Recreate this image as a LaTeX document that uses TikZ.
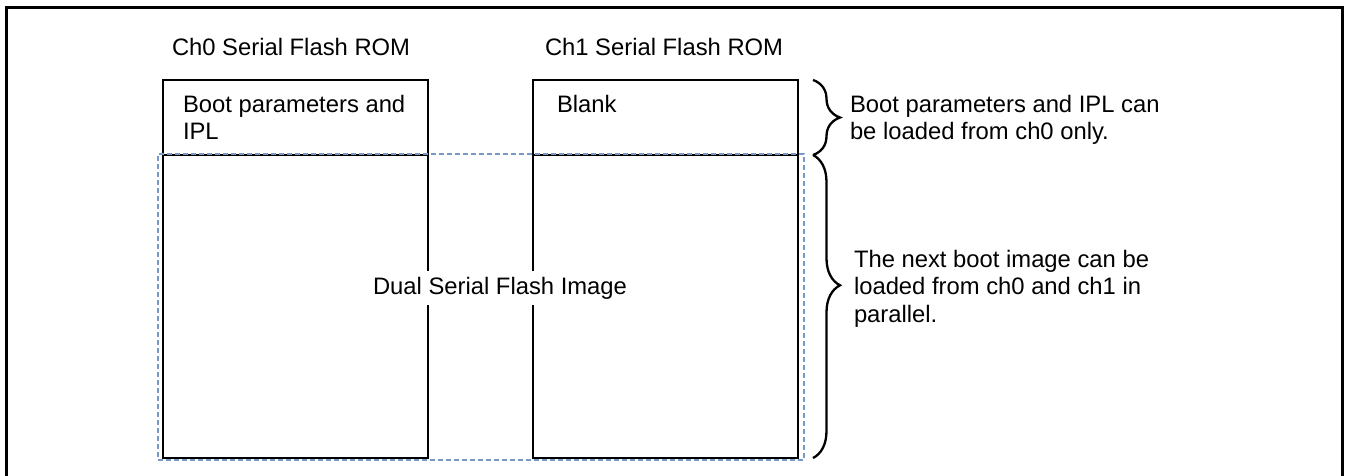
\documentclass[tikz,border=0pt]{standalone}
\usepackage{fontspec}
\setmainfont{Liberation Sans}
\usetikzlibrary{decorations.pathreplacing}
\definecolor{dashblue}{RGB}{120,152,204}
\begin{document}
\begin{tikzpicture}[x=1pt,y=-1pt,
  box/.style={draw, line width=2.8pt, minimum width=265pt, anchor=north west, inner sep=0pt, outer sep=0pt},
  txt/.style={font=\fontsize{23.8}{27.5}\selectfont, inner sep=0pt, outer sep=0pt},
  lbl/.style={txt, anchor=base west},
  para/.style={txt, anchor=north west, align=left},
  brc/.style={decorate, decoration={brace, amplitude=27pt}, line width=2.3pt},
  dashbox/.style={draw=dashblue, dashed, dash pattern=on 5pt off 3pt, line width=1.6pt, anchor=north west, inner sep=0pt, minimum width=646pt, minimum height=306pt}]
\useasboundingbox (0,0) rectangle (1346,475);
\fill[white] (0,0) rectangle (1346,475);
% outer frame
\draw[line width=3pt] (6,480) -- (6,7) -- (1342,7) -- (1342,480);
% titles
\node[lbl] (t0) at (172,55.5) {Ch0 Serial Flash ROM};
\node[lbl] (t1) at (545,55.5) {Ch1 Serial Flash ROM};
% boxes
\node[box, minimum height=75pt] (c0t) at (163,80) {};
\node[box, minimum height=303pt] (c0b) at (163,155) {};
\node[box, minimum height=75pt] (c1t) at (533,80) {};
\node[box, minimum height=303pt] (c1b) at (533,155) {};
% dashed region
\node[dashbox] (dual) at (157,153) {};
% box texts
\node[para] (boot) at (183,95.1) {Boot parameters and\\IPL};
\node[lbl] (blank) at (557,112.5) {Blank};
\node[txt, fill=white, inner xsep=3pt, inner ysep=6pt] (dsfi) at (500,288) {Dual Serial Flash Image};
% braces
\draw[brc] ([xshift=15pt]c1t.north east) -- ([xshift=15pt]c1t.south east);
\draw[brc, decoration={aspect=0.43}] ([xshift=15pt]c1b.north east) -- ([xshift=15pt]c1b.south east);
\node[para] (n1) at (850,95.1) {Boot parameters and IPL can\\be loaded from ch0 only.};
\node[para] (n2) at (854,250.1) {The next boot image can be\\loaded from ch0 and ch1 in\\parallel.};
\end{tikzpicture}
\end{document}
